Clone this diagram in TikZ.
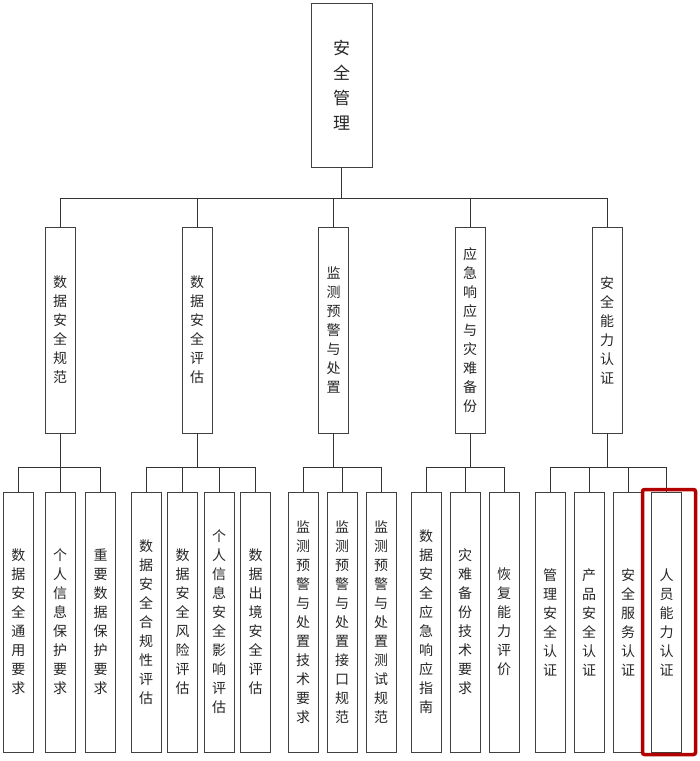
\documentclass[tikz,border=0pt]{standalone}
\usepackage{fontspec}
\setmainfont{Noto Sans CJK SC}
\begin{document}
\begin{tikzpicture}[x=1pt,y=-1pt,
  box/.style={draw=black!75,line width=0.9pt,inner sep=0pt,align=center,font=\fontsize{14}{19}\selectfont,text=black!85},
  root/.style={box,minimum width=61pt,minimum height=164pt,font=\fontsize{17}{25}\selectfont},
  mid/.style={box,minimum width=30pt,minimum height=206pt},
  leaf/.style={box,minimum width=30pt,minimum height=260pt},
  wire/.style={draw=black!80,line width=0.9pt}]
\useasboundingbox (0,0) rectangle (700,761);
\node[root] (r) at (341.5,85) {安\\全\\管\\理};
\node[mid] (a) at (60,330) {数\\据\\安\\全\\规\\范};
\node[mid] (b) at (197,330) {数\\据\\安\\全\\评\\估};
\node[mid] (c) at (333.5,330) {监\\测\\预\\警\\与\\处\\置};
\node[mid] (d) at (470,330) {应\\急\\响\\应\\与\\灾\\难\\备\\份};
\node[mid] (e) at (607,330) {安\\全\\能\\力\\认\\证};
\coordinate (bt) at (0,198);
\coordinate (bl) at (0,467);
\draw[wire] (r.south) -- (r.south |- bt);
\draw[wire] (a.north |- bt) -- (e.north |- bt);
\foreach \n in {a,b,c,d,e} {\draw[wire] (\n.north) -- (\n.north |- bt); \draw[wire] (\n.south) -- (\n.south |- bl);}
\foreach \n/\x/\t in {a1/18.5/{数\\据\\安\\全\\通\\用\\要\\求}, a2/60/{个\\人\\信\\息\\保\\护\\要\\求}, a3/100.5/{重\\要\\数\\据\\保\\护\\要\\求},
  b1/146/{数\\据\\安\\全\\合\\规\\性\\评\\估}, b2/182.5/{数\\据\\安\\全\\风\\险\\评\\估}, b3/219/{个\\人\\信\\息\\安\\全\\影\\响\\评\\估}, b4/255.5/{数\\据\\出\\境\\安\\全\\评\\估},
  c1/303/{监\\测\\预\\警\\与\\处\\置\\技\\术\\要\\求}, c2/342/{监\\测\\预\\警\\与\\处\\置\\接\\口\\规\\范}, c3/381/{监\\测\\预\\警\\与\\处\\置\\测\\试\\规\\范},
  d1/426/{数\\据\\安\\全\\应\\急\\响\\应\\指\\南}, d2/465/{灾\\难\\备\\份\\技\\术\\要\\求}, d3/504/{恢\\复\\能\\力\\评\\价},
  e1/550/{管\\理\\安\\全\\认\\证}, e2/589/{产\\品\\安\\全\\认\\证}, e3/628/{安\\全\\服\\务\\认\\证}, e4/666.5/{人\\员\\能\\力\\认\\证}}
  {\node[leaf] (\n) at (\x,622) {\t}; \draw[wire] (\n.north) -- (\n.north |- bl);}
\draw[wire] (a1.north |- bl) -- (a3.north |- bl);
\draw[wire] (b1.north |- bl) -- (b4.north |- bl);
\draw[wire] (c1.north |- bl) -- (c3.north |- bl);
\draw[wire] (d1.north |- bl) -- (d3.north |- bl);
\draw[wire] (e1.north |- bl) -- (e4.north |- bl);
\node[draw=red!70!black,line width=3.5pt,rounded corners=2pt,minimum width=53pt,minimum height=265pt,inner sep=0pt] (hl) at (669,622) {};
\end{tikzpicture}
\end{document}
